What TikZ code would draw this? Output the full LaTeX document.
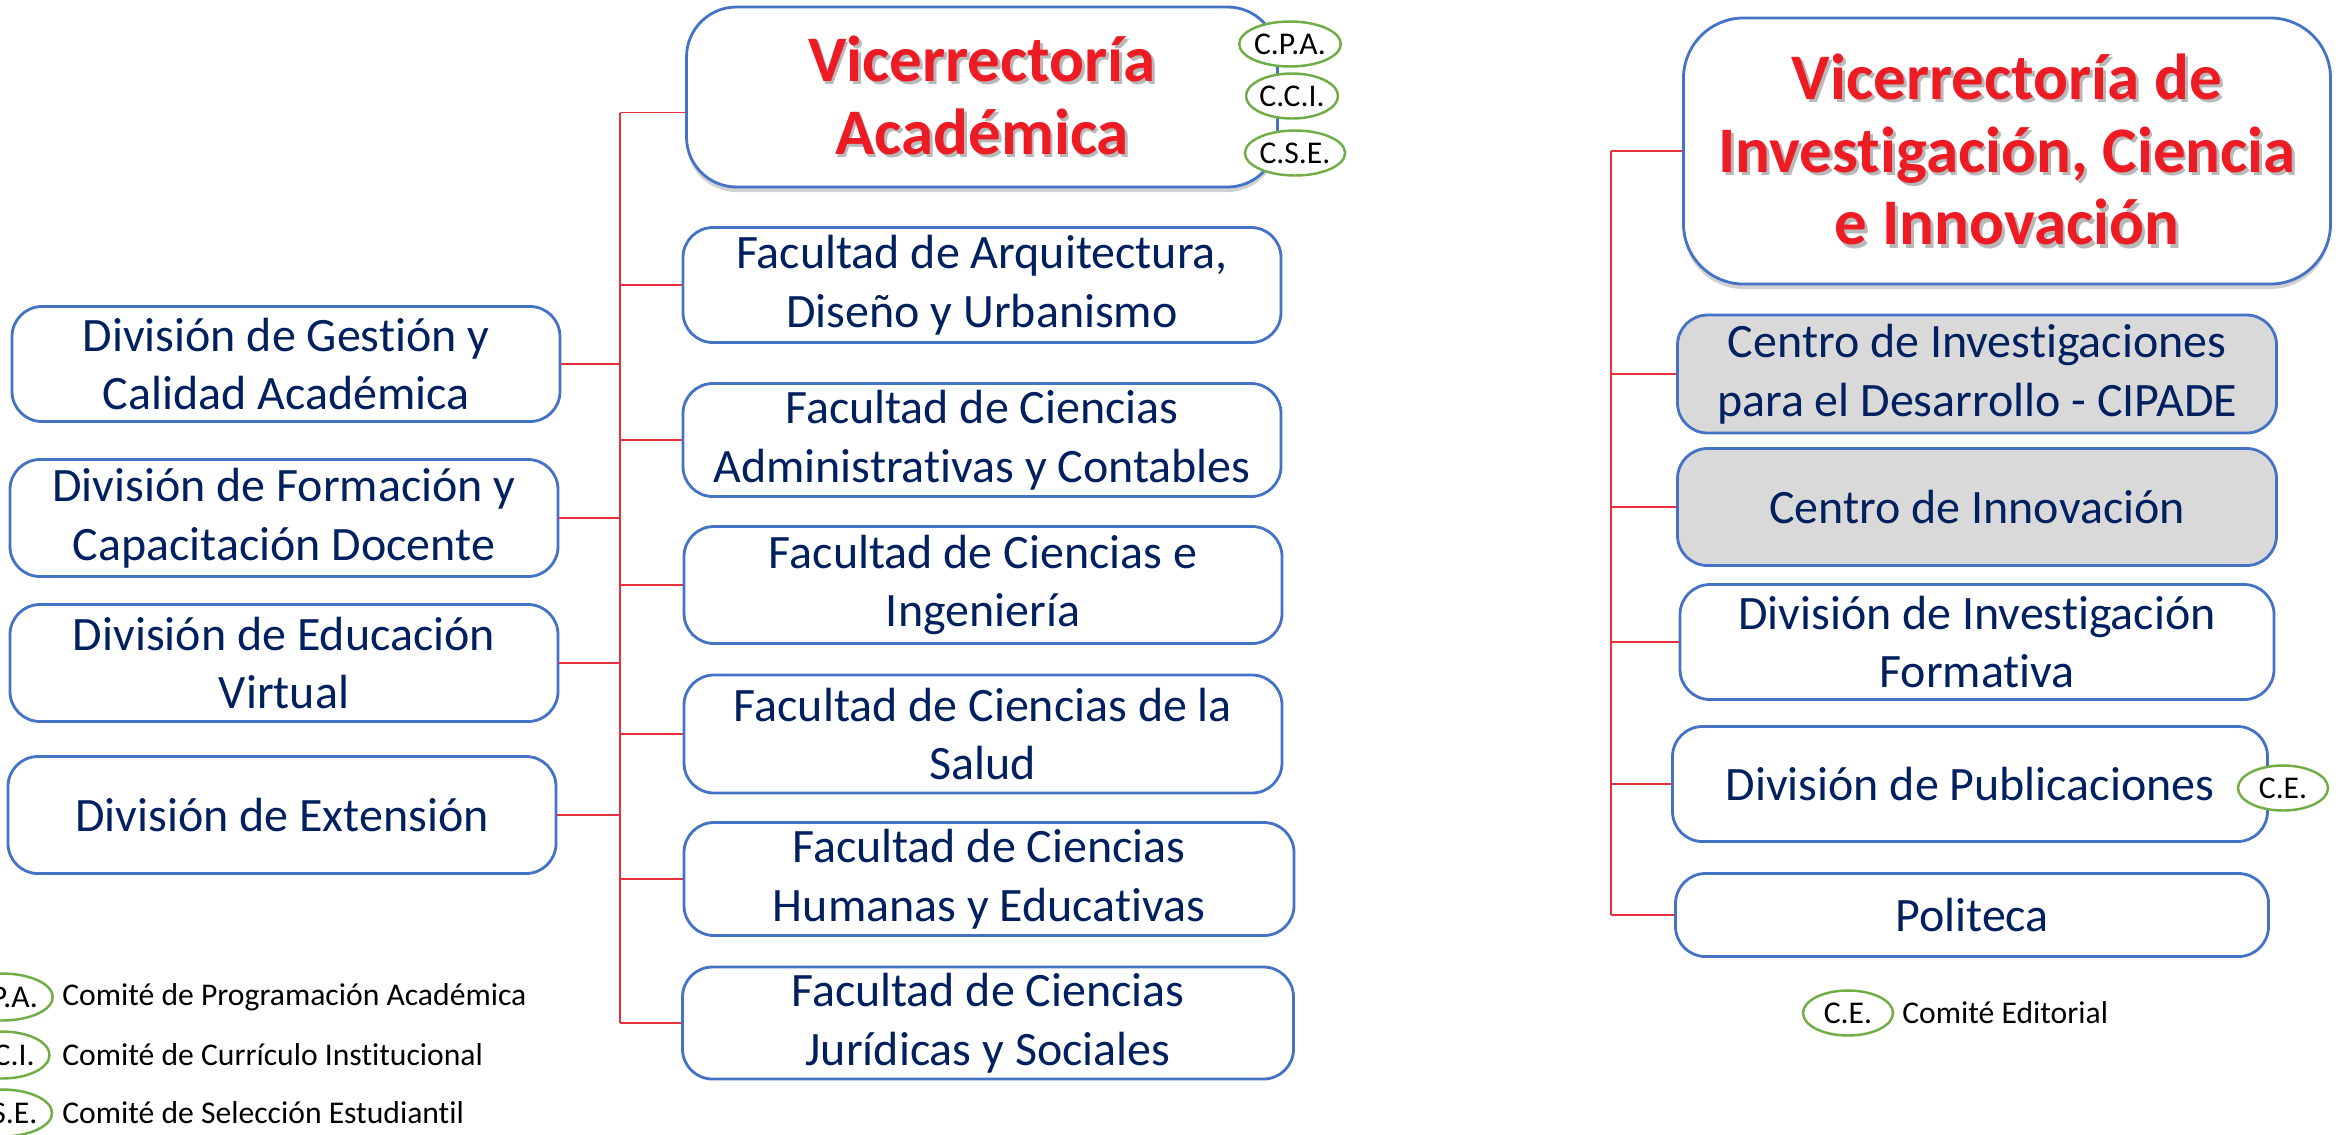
\documentclass[tikz,border=0pt]{standalone}
\usepackage{fontspec}
\setmainfont{Carlito}[Ligatures=CommonOff]
\usepackage{xcolor}
\usetikzlibrary{positioning,shapes.geometric,shadows,calc}

\definecolor{azulborde}{HTML}{4472C4}
\definecolor{azultexto}{HTML}{002060}
\definecolor{rojotitulo}{HTML}{ED1C24}
\definecolor{rojolinea}{HTML}{E8303C}
\definecolor{verdecomite}{HTML}{70AD47}
\definecolor{grisfondo}{HTML}{D9D9D9}

%Sombra del texto rojo: copia gris un poco desplazada
\newcommand{\sombreado}[1]{\rlap{\kern1.6pt\raisebox{-1.8pt}{\textcolor{black!28}{#1}}}#1}

\tikzset{
  tam/.style 2 args={minimum width=#1*0.2mm, minimum height=#2*0.2mm},
  caja/.style={draw=azulborde, line width=1.6pt, rounded corners=6mm, fill=white,
    text=azultexto, align=center, inner sep=0pt, font=\fontsize{27.3}{33.5}\selectfont},
  cajagris/.style={caja, fill=grisfondo},
  titulo/.style={caja, rounded corners=10mm, text=rojotitulo,
    font=\fontsize{37}{41.5}\selectfont\bfseries,
    drop shadow={shadow xshift=0mm, shadow yshift=-1mm, opacity=0.18, fill=black}},
  comite/.style={ellipse, draw=verdecomite, line width=1.4pt, fill=white, inner sep=0pt,
    minimum width=18mm, minimum height=9mm, font=\fontsize{18}{20}\selectfont},
  leyenda/.style={anchor=west, inner sep=0pt, font=\fontsize{18}{20}\selectfont},
  rama/.style={draw=rojolinea, line width=0.8pt},
}

\begin{document}
\begin{tikzpicture}[x=0.2mm, y=-0.2mm]
\useasboundingbox (0,0) rectangle (2343,1134);
%Troncos rojos de cada vicerrectoria
\coordinate (troncoAcad) at (620,0);
\coordinate (troncoInv) at (1611,0);

%Vicerrectoria Academica
\node[titulo, tam={591}{180}] (va) at (982,97) {\sombreado{Vicerrectoría}\\\sombreado{Académica}};
\node[comite] (cpa) at (1290,44) {C.P.A.};
\node[comite] (cci) at (1292,96) {C.C.I.};
\node[comite] (cse) at (1295,153) {C.S.E.};

\node[caja, tam={548}{115}] (gestion)   at (286,364) {División de Gestión y\\Calidad Académica};
\node[caja, tam={548}{117}] (formacion) at (284,518) {División de Formación y\\Capacitación Docente};
\node[caja, tam={548}{117}] (educacion) at (284,663) {División de Educación\\Virtual};
\node[caja, tam={548}{117}] (extension) at (282,815) {División de Extensión};

\node[caja, tam={598}{115}] (arq)       at (982,285)  {Facultad de Arquitectura,\\Diseño y Urbanismo};
\node[caja, tam={598}{113}] (admin)     at (982,440)  {Facultad de Ciencias\\Administrativas y Contables};
\node[caja, tam={598}{117}] (ing)       at (983,585)  {Facultad de Ciencias e\\Ingeniería};
\node[caja, tam={598}{118}] (salud)     at (983,734)  {Facultad de Ciencias de la\\Salud};
\node[caja, tam={610}{113}] (humanas)   at (989,879)  {Facultad de Ciencias\\Humanas y Educativas};
\node[caja, tam={611}{112}] (juridicas) at (988,1023) {Facultad de Ciencias\\Jurídicas y Sociales};

\draw[rama] (va.183 -| troncoAcad) -- (juridicas.west -| troncoAcad);
\draw[rama] (va.183) -- (va.183 -| troncoAcad);
\foreach \n in {arq,admin,ing,salud,humanas,juridicas}{
  \draw[rama] (\n.west) -- (\n.west -| troncoAcad);
}
\foreach \n in {gestion,formacion,educacion,extension}{
  \draw[rama] (\n.east) -- (\n.east -| troncoAcad);
}

%Leyenda de comites (academica)
\node[comite, minimum width=19mm, minimum height=9.4mm] (lcpa) at (2,997)  {C.P.A.};
\node[comite, minimum width=19mm, minimum height=9.4mm] (lcci) at (2,1055) {C.C.I.};
\node[comite, minimum width=19mm, minimum height=9.4mm] (lcse) at (2,1113) {C.S.E.};
\node[leyenda] (tcpa) at (62,997)  {Comité de Programación Académica};
\node[leyenda] (tcci) at (62,1055) {Comité de Currículo Institucional};
\node[leyenda] (tcse) at (62,1113) {Comité de Selección Estudiantil};

%Vicerrectoria de Investigacion
\node[titulo, rounded corners=12mm, tam={647}{266}] (vi) at (2007,151)
  {\sombreado{Vicerrectoría de}\\\sombreado{Investigación, Ciencia}\\\sombreado{e Innovación}};
\node[cajagris, tam={599}{118}] (cipade)     at (1977,374) {Centro de Investigaciones\\para el Desarrollo - CIPADE};
\node[cajagris, tam={599}{117}] (innovacion) at (1977,507) {Centro de Innovación};
\node[caja, tam={594}{115}] (formativa)      at (1977,642) {División de Investigación\\Formativa};
\node[caja, tam={595}{115}] (publicaciones)  at (1970,784) {División de Publicaciones};
\node[caja, tam={593}{83}]  (politeca)       at (1972,915) {Politeca};
\node[comite] (ce) at (2283,788) {C.E.};

\draw[rama] (vi.west -| troncoInv) -- (politeca.west -| troncoInv);
\foreach \n in {vi,cipade,innovacion,formativa,publicaciones,politeca}{
  \draw[rama] (\n.west) -- (\n.west -| troncoInv);
}

\node[comite] (lce) at (1848,1013) {C.E.};
\node[leyenda] (tce) at (1902,1013) {Comité Editorial};
\end{tikzpicture}
\end{document}
